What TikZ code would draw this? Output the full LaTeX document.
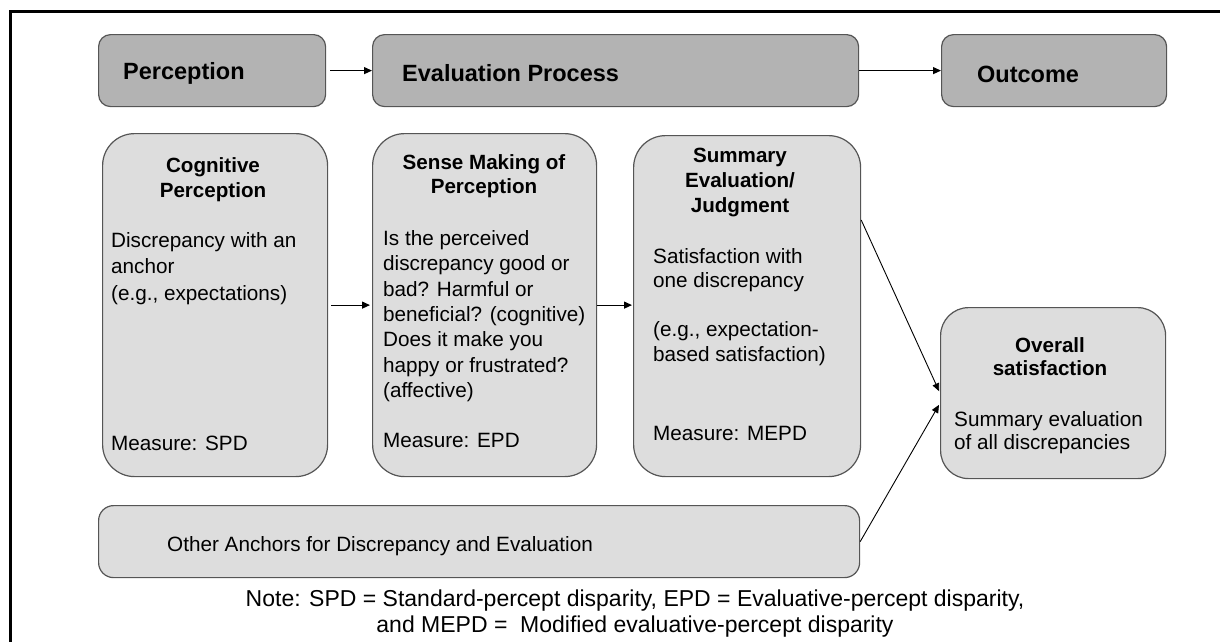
\documentclass[tikz,border=0pt]{standalone}
\usepackage{fontspec}
\setmainfont{Liberation Sans}
\usetikzlibrary{arrows.meta}
\definecolor{hdrc}{RGB}{179,179,179}
\definecolor{boxc}{RGB}{221,221,221}
\definecolor{bordc}{RGB}{85,85,85}
\tikzset{
  hdrbox/.style={draw=bordc, fill=hdrc, line width=1.2pt, rounded corners=12pt, anchor=north west, inner sep=0pt},
  bigbox/.style={draw=bordc, fill=boxc, line width=1.2pt, rounded corners=32pt, anchor=north west, inner sep=0pt},
  smallbox/.style={draw=bordc, fill=boxc, line width=1.2pt, rounded corners=15pt, anchor=north west, inner sep=0pt},
  hdrtext/.style={anchor=base west, inner sep=0pt, font=\bfseries\fontsize{23.5}{28}\selectfont},
  titletext/.style={anchor=north, inner sep=0pt, align=center, font=\bfseries\fontsize{20.6}{25}\selectfont},
  bodytext/.style={anchor=north west, inner sep=0pt, align=left, font=\fontsize{20.7}{25.4}\selectfont},
  measuretext/.style={anchor=base west, inner sep=0pt, font=\fontsize{20.7}{25.4}\selectfont},
  arr/.style={draw=black, line width=1.2pt, -{Triangle[length=8pt,width=7pt]}},
  frameline/.style={draw=black, line width=3pt}
}
\begin{document}
\begin{tikzpicture}[x=1pt,y=-1pt]
\useasboundingbox (0,0) rectangle (1220,641);
% outer frame (top and left)
\draw[frameline] (1221,11) -- (10,11) -- (10,642);

% header boxes
\node[hdrbox, minimum width=227, minimum height=72] (perc) at (98,34) {};
\node[hdrbox, minimum width=486, minimum height=72] (evalp) at (372,34) {};
\node[hdrbox, minimum width=225, minimum height=72] (outc) at (941,34) {};
\node[hdrtext] (percT) at (123,79) {Perception};
\node[hdrtext] (evalpT) at (402,81) {Evaluation Process};
\node[hdrtext] (outcT) at (977,82) {Outcome};

% main boxes
\node[bigbox, minimum width=225, minimum height=343] (cog) at (102,133) {};
\node[bigbox, minimum width=224, minimum height=343] (sense) at (372,133) {};
\node[bigbox, minimum width=227, minimum height=341] (summ) at (633,135) {};
\node[bigbox, rounded corners=28pt, minimum width=225, minimum height=171] (over) at (940,307) {};
\node[smallbox, minimum width=761, minimum height=72] (other) at (98,505) {};

% Cognitive Perception
\node[titletext] (cogT) at (213,157) {Cognitive\\Perception};
\node[bodytext, font=\fontsize{20.7}{26.5}\selectfont] (cogB) at (111,232) {Discrepancy with an\\anchor\\(e.g., expectations)};
\node[measuretext] (cogM) at (111,450) {Measure: SPD};

% Sense Making
\node[titletext, font=\bfseries\fontsize{20.6}{24.5}\selectfont] (senseT) at (484,154) {Sense Making of\\Perception};
\node[bodytext] (senseB) at (383,230) {Is the perceived\\discrepancy good or\\bad? Harmful or\\beneficial? (cognitive)\\Does it make you\\happy or frustrated?\\(affective)};
\node[measuretext] (senseM) at (383,447) {Measure: EPD};

% Summary Evaluation
\node[titletext] (summT) at (740,148) {Summary\\Evaluation/\\Judgment};
\node[bodytext, font=\fontsize{20.7}{24.5}\selectfont] (summB) at (653,248) {Satisfaction with\\one discrepancy\\[24.5pt](e.g., expectation-\\based satisfaction)};
\node[measuretext] (summM) at (653,440) {Measure: MEPD};

% Overall satisfaction
\node[titletext, font=\bfseries\fontsize{20.6}{23}\selectfont] (overT) at (1050,337) {Overall\\satisfaction};
\node[bodytext, font=\fontsize{20.7}{23}\selectfont] (overB) at (954,411) {Summary evaluation\\of all discrepancies};

% Other anchors
\node[measuretext] (otherT) at (167,551) {Other Anchors for Discrepancy and Evaluation};

% Note
\node[anchor=north, inner sep=0pt, align=center, font=\fontsize{23}{26}\selectfont] (note) at (635,590)
  {Note: SPD = Standard-percept disparity, EPD = Evaluative-percept disparity,\\and MEPD = \ Modified evaluative-percept disparity};

% connectors
\draw[arr, shorten <=4pt] (perc.east) -- (evalp.west);
\draw[arr] (evalp.east) -- (outc.west);
\draw[arr, shorten <=3pt, shorten >=2pt] (cog.east) -- (sense.west);
\draw[arr, shorten >=1pt] (sense.east) -- (sense.east -| summ.west);
\draw[arr, line width=0.9pt, shorten >=2pt] ([yshift=-85pt]summ.north east) -- (over.west);
\draw[arr, line width=0.9pt, shorten >=2pt] (other.east) -- ([yshift=-10pt]over.west);
\end{tikzpicture}
\end{document}
